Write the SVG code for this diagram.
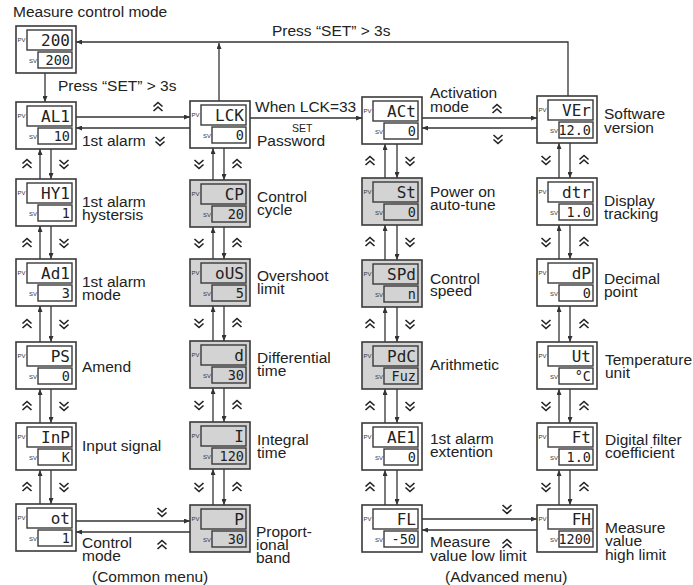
<svg xmlns="http://www.w3.org/2000/svg" xmlns:xlink="http://www.w3.org/1999/xlink" width="693" height="585" viewBox="0 0 693 585">
<style>
.o{fill:#fff;stroke:#3a3a3a;stroke-width:1.6}
.i{fill:#fff;stroke:#3a3a3a;stroke-width:1.4}
.gr .o,.gr .i{fill:#d3d3d3}
.t{font-family:"Liberation Sans",Arial,sans-serif;font-size:6px;fill:#333}
.pv,.sv{font-family:"DejaVu Sans Mono","Liberation Mono",monospace;text-anchor:end;fill:#222}
.pv{font-size:16px}
.sv{font-size:13.5px}
.lbl{font-family:"Liberation Sans",Arial,sans-serif;font-size:15.5px;fill:#222}
.sm{font-family:"Liberation Sans",Arial,sans-serif;font-size:10.5px;fill:#222}
.ln{fill:none;stroke:#333;stroke-width:1.3}
.ch{fill:none;stroke:#222;stroke-width:1.6}
</style>
<defs>
<marker id="ah" viewBox="0 0 12 10" refX="12" refY="5" markerWidth="6" markerHeight="5" orient="auto" markerUnits="userSpaceOnUse"><path d="M0,0 L12,5 L0,10 z" fill="#333"/></marker>
<path id="cu" class="ch" d="M-4.5,-0.5 L0,-4.5 L4.5,-0.5 M-4.5,4 L0,0 L4.5,4"/>
<path id="cd" class="ch" d="M-4.5,0.5 L0,4.5 L4.5,0.5 M-4.5,-4 L0,0 L4.5,-4"/>
</defs>

<g id="connectors">
<path class="ln" marker-end="url(#ah)" d="M568,96 V42 H76"/>
<path class="ln" marker-end="url(#ah)" d="M219,101 V43"/>
<path class="ln" marker-end="url(#ah)" d="M45,73 V102"/>
<path class="ln" marker-end="url(#ah)" d="M76,117 H190"/>
<path class="ln" marker-end="url(#ah)" d="M190,128 H76"/>
<path class="ln" marker-end="url(#ah)" d="M250,118 H362"/>
<path class="ln" marker-end="url(#ah)" d="M422,118 H537"/>
<path class="ln" marker-end="url(#ah)" d="M537,128 H422"/>
<path class="ln" marker-end="url(#ah)" d="M76,521 H190"/>
<path class="ln" marker-end="url(#ah)" d="M190,532 H76"/>
<path class="ln" marker-end="url(#ah)" d="M422,519 H537"/>
<path class="ln" marker-end="url(#ah)" d="M537,530 H422"/>
<path class="ln" marker-end="url(#ah)" d="M40,179 V149"/><path class="ln" marker-end="url(#ah)" d="M51,149 V179"/>
<path class="ln" marker-end="url(#ah)" d="M40,259 V226"/><path class="ln" marker-end="url(#ah)" d="M51,226 V259"/>
<path class="ln" marker-end="url(#ah)" d="M40,342 V306"/><path class="ln" marker-end="url(#ah)" d="M51,306 V342"/>
<path class="ln" marker-end="url(#ah)" d="M40,423 V389"/><path class="ln" marker-end="url(#ah)" d="M51,389 V423"/>
<path class="ln" marker-end="url(#ah)" d="M40,504 V470"/><path class="ln" marker-end="url(#ah)" d="M51,470 V504"/>
<path class="ln" marker-end="url(#ah)" d="M213,180 V148"/><path class="ln" marker-end="url(#ah)" d="M224,148 V180"/>
<path class="ln" marker-end="url(#ah)" d="M213,259 V227"/><path class="ln" marker-end="url(#ah)" d="M224,227 V259"/>
<path class="ln" marker-end="url(#ah)" d="M213,341 V306"/><path class="ln" marker-end="url(#ah)" d="M224,306 V341"/>
<path class="ln" marker-end="url(#ah)" d="M213,422 V388"/><path class="ln" marker-end="url(#ah)" d="M224,388 V422"/>
<path class="ln" marker-end="url(#ah)" d="M213,505 V469"/><path class="ln" marker-end="url(#ah)" d="M224,469 V505"/>
<path class="ln" marker-end="url(#ah)" d="M385,178 V144"/><path class="ln" marker-end="url(#ah)" d="M397,144 V178"/>
<path class="ln" marker-end="url(#ah)" d="M385,260 V225"/><path class="ln" marker-end="url(#ah)" d="M397,225 V260"/>
<path class="ln" marker-end="url(#ah)" d="M385,342 V307"/><path class="ln" marker-end="url(#ah)" d="M397,307 V342"/>
<path class="ln" marker-end="url(#ah)" d="M385,423 V389"/><path class="ln" marker-end="url(#ah)" d="M397,389 V423"/>
<path class="ln" marker-end="url(#ah)" d="M385,505 V470"/><path class="ln" marker-end="url(#ah)" d="M397,470 V505"/>
<path class="ln" marker-end="url(#ah)" d="M559,178 V143"/><path class="ln" marker-end="url(#ah)" d="M570,143 V178"/>
<path class="ln" marker-end="url(#ah)" d="M559,259 V225"/><path class="ln" marker-end="url(#ah)" d="M570,225 V259"/>
<path class="ln" marker-end="url(#ah)" d="M559,342 V306"/><path class="ln" marker-end="url(#ah)" d="M570,306 V342"/>
<path class="ln" marker-end="url(#ah)" d="M559,423 V389"/><path class="ln" marker-end="url(#ah)" d="M570,389 V423"/>
<path class="ln" marker-end="url(#ah)" d="M559,505 V470"/><path class="ln" marker-end="url(#ah)" d="M570,470 V505"/>
<use xlink:href="#cu" x="158" y="107"/><use xlink:href="#cd" x="160" y="141"/>
<use xlink:href="#cu" x="497" y="109"/><use xlink:href="#cd" x="498" y="139"/>
<use xlink:href="#cd" x="162" y="512"/><use xlink:href="#cu" x="162" y="545"/>
<use xlink:href="#cd" x="507" y="509"/><use xlink:href="#cu" x="507" y="544"/>
<use xlink:href="#cu" x="27" y="164"/><use xlink:href="#cd" x="64" y="164"/>
<use xlink:href="#cu" x="27" y="243"/><use xlink:href="#cd" x="64" y="243"/>
<use xlink:href="#cu" x="27" y="324"/><use xlink:href="#cd" x="64" y="324"/>
<use xlink:href="#cu" x="27" y="406"/><use xlink:href="#cd" x="64" y="406"/>
<use xlink:href="#cu" x="27" y="487"/><use xlink:href="#cd" x="64" y="487"/>
<use xlink:href="#cd" x="199" y="164"/><use xlink:href="#cu" x="237" y="164"/>
<use xlink:href="#cd" x="199" y="243"/><use xlink:href="#cu" x="237" y="243"/>
<use xlink:href="#cd" x="199" y="323"/><use xlink:href="#cu" x="237" y="323"/>
<use xlink:href="#cd" x="199" y="405"/><use xlink:href="#cu" x="237" y="405"/>
<use xlink:href="#cd" x="199" y="487"/><use xlink:href="#cu" x="237" y="487"/>
<use xlink:href="#cu" x="370" y="161"/><use xlink:href="#cd" x="410" y="161"/>
<use xlink:href="#cu" x="370" y="242"/><use xlink:href="#cd" x="410" y="242"/>
<use xlink:href="#cu" x="370" y="324"/><use xlink:href="#cd" x="410" y="324"/>
<use xlink:href="#cu" x="370" y="406"/><use xlink:href="#cd" x="410" y="406"/>
<use xlink:href="#cu" x="370" y="487"/><use xlink:href="#cd" x="410" y="487"/>
<use xlink:href="#cd" x="546" y="160"/><use xlink:href="#cu" x="584" y="160"/>
<use xlink:href="#cd" x="546" y="242"/><use xlink:href="#cu" x="584" y="242"/>
<use xlink:href="#cd" x="546" y="324"/><use xlink:href="#cu" x="584" y="324"/>
<use xlink:href="#cd" x="546" y="406"/><use xlink:href="#cu" x="584" y="406"/>
<use xlink:href="#cd" x="546" y="487"/><use xlink:href="#cu" x="584" y="487"/>
<text class="lbl" x="58" y="91">Press “SET” &gt; 3s</text>
<text class="lbl" x="272" y="36">Press “SET” &gt; 3s</text>
<text class="lbl" x="255" y="112">When LCK=33</text>
<text class="sm" x="292" y="132">SET</text>
</g>

<text class="lbl" x="13" y="17">Measure control mode</text>
<text class="lbl" x="92" y="582">(Common menu)</text>
<text class="lbl" x="445" y="582">(Advanced menu)</text>

<g id="n-measure" transform="translate(16,26)"><rect class="o" width="60" height="47"/><rect class="i" x="11" y="4" width="45" height="20"/><rect class="i" x="22" y="26" width="34" height="16"/><text class="t" x="1.5" y="16">PV</text><text class="t" x="13" y="37">SV</text><text class="pv" x="54" y="20">200</text><text class="sv" x="54" y="39">200</text></g>

<g id="n-al1" transform="translate(16,102)"><rect class="o" width="60" height="47"/><rect class="i" x="11" y="4" width="45" height="20"/><rect class="i" x="22" y="26" width="34" height="16"/><text class="t" x="1.5" y="16">PV</text><text class="t" x="13" y="37">SV</text><text class="pv" x="54" y="20">AL1</text><text class="sv" x="54" y="39">10</text><text class="lbl" x="66" y="44">1st alarm</text></g>
<g id="n-hy1" transform="translate(16,179)"><rect class="o" width="60" height="47"/><rect class="i" x="11" y="4" width="45" height="20"/><rect class="i" x="22" y="26" width="34" height="16"/><text class="t" x="1.5" y="16">PV</text><text class="t" x="13" y="37">SV</text><text class="pv" x="54" y="20">HY1</text><text class="sv" x="54" y="39">1</text><text class="lbl" x="66" y="28">1st alarm<tspan x="66" dy="13">hystersis</tspan></text></g>
<g id="n-ad1" transform="translate(16,259)"><rect class="o" width="60" height="47"/><rect class="i" x="11" y="4" width="45" height="20"/><rect class="i" x="22" y="26" width="34" height="16"/><text class="t" x="1.5" y="16">PV</text><text class="t" x="13" y="37">SV</text><text class="pv" x="54" y="20">Ad1</text><text class="sv" x="54" y="39">3</text><text class="lbl" x="66" y="28">1st alarm<tspan x="66" dy="13">mode</tspan></text></g>
<g id="n-ps" transform="translate(16,342)"><rect class="o" width="60" height="47"/><rect class="i" x="11" y="4" width="45" height="20"/><rect class="i" x="22" y="26" width="34" height="16"/><text class="t" x="1.5" y="16">PV</text><text class="t" x="13" y="37">SV</text><text class="pv" x="54" y="20">PS</text><text class="sv" x="54" y="39">0</text><text class="lbl" x="66" y="30">Amend</text></g>
<g id="n-inp" transform="translate(16,423)"><rect class="o" width="60" height="47"/><rect class="i" x="11" y="4" width="45" height="20"/><rect class="i" x="22" y="26" width="34" height="16"/><text class="t" x="1.5" y="16">PV</text><text class="t" x="13" y="37">SV</text><text class="pv" x="54" y="20">InP</text><text class="sv" x="54" y="39">K</text><text class="lbl" x="66" y="28">Input signal</text></g>
<g id="n-ot" transform="translate(16,504)"><rect class="o" width="60" height="47"/><rect class="i" x="11" y="4" width="45" height="20"/><rect class="i" x="22" y="26" width="34" height="16"/><text class="t" x="1.5" y="16">PV</text><text class="t" x="13" y="37">SV</text><text class="pv" x="54" y="20">ot</text><text class="sv" x="54" y="39">1</text><text class="lbl" x="66" y="44">Control<tspan x="66" dy="12.5">mode</tspan></text></g>

<g id="n-lck" transform="translate(190,101)"><rect class="o" width="60" height="47"/><rect class="i" x="11" y="4" width="45" height="20"/><rect class="i" x="22" y="26" width="34" height="16"/><text class="t" x="1.5" y="16">PV</text><text class="t" x="13" y="37">SV</text><text class="pv" x="54" y="20">LCK</text><text class="sv" x="54" y="39">0</text><text class="lbl" x="67" y="45">Password</text></g>
<g id="n-cp" class="gr" transform="translate(190,180)"><rect class="o" width="60" height="47"/><rect class="i" x="11" y="4" width="45" height="20"/><rect class="i" x="22" y="26" width="34" height="16"/><text class="t" x="1.5" y="16">PV</text><text class="t" x="13" y="37">SV</text><text class="pv" x="54" y="20">CP</text><text class="sv" x="54" y="39">20</text><text class="lbl" x="67" y="22">Control<tspan x="67" dy="13">cycle</tspan></text></g>
<g id="n-ous" class="gr" transform="translate(190,259)"><rect class="o" width="60" height="47"/><rect class="i" x="11" y="4" width="45" height="20"/><rect class="i" x="22" y="26" width="34" height="16"/><text class="t" x="1.5" y="16">PV</text><text class="t" x="13" y="37">SV</text><text class="pv" x="54" y="20">oUS</text><text class="sv" x="54" y="39">5</text><text class="lbl" x="67" y="22">Overshoot<tspan x="67" dy="13">limit</tspan></text></g>
<g id="n-d" class="gr" transform="translate(190,341)"><rect class="o" width="60" height="47"/><rect class="i" x="11" y="4" width="45" height="20"/><rect class="i" x="22" y="26" width="34" height="16"/><text class="t" x="1.5" y="16">PV</text><text class="t" x="13" y="37">SV</text><text class="pv" x="54" y="20">d</text><text class="sv" x="54" y="39">30</text><text class="lbl" x="67" y="22">Differential<tspan x="67" dy="13">time</tspan></text></g>
<g id="n-i" class="gr" transform="translate(190,422)"><rect class="o" width="60" height="47"/><rect class="i" x="11" y="4" width="45" height="20"/><rect class="i" x="22" y="26" width="34" height="16"/><text class="t" x="1.5" y="16">PV</text><text class="t" x="13" y="37">SV</text><text class="pv" x="54" y="20">I</text><text class="sv" x="54" y="39">120</text><text class="lbl" x="67" y="23">Integral<tspan x="67" dy="13">time</tspan></text></g>
<g id="n-p" class="gr" transform="translate(190,505)"><rect class="o" width="60" height="47"/><rect class="i" x="11" y="4" width="45" height="20"/><rect class="i" x="22" y="26" width="34" height="16"/><text class="t" x="1.5" y="16">PV</text><text class="t" x="13" y="37">SV</text><text class="pv" x="54" y="20">P</text><text class="sv" x="54" y="39">30</text><text class="lbl" x="66" y="32">Proport-<tspan x="66" dy="13">ional</tspan><tspan x="66" dy="13">band</tspan></text></g>

<g id="n-act" transform="translate(362,97)"><rect class="o" width="60" height="47"/><rect class="i" x="11" y="4" width="45" height="20"/><rect class="i" x="22" y="26" width="34" height="16"/><text class="t" x="1.5" y="16">PV</text><text class="t" x="13" y="37">SV</text><text class="pv" x="54" y="20">ACt</text><text class="sv" x="54" y="39">0</text><text class="lbl" x="68" y="1">Activation<tspan x="68" dy="13.5">mode</tspan></text></g>
<g id="n-st" class="gr" transform="translate(362,178)"><rect class="o" width="60" height="47"/><rect class="i" x="11" y="4" width="45" height="20"/><rect class="i" x="22" y="26" width="34" height="16"/><text class="t" x="1.5" y="16">PV</text><text class="t" x="13" y="37">SV</text><text class="pv" x="54" y="20">St</text><text class="sv" x="54" y="39">0</text><text class="lbl" x="68" y="19">Power on<tspan x="68" dy="13">auto-tune</tspan></text></g>
<g id="n-spd" class="gr" transform="translate(362,260)"><rect class="o" width="60" height="47"/><rect class="i" x="11" y="4" width="45" height="20"/><rect class="i" x="22" y="26" width="34" height="16"/><text class="t" x="1.5" y="16">PV</text><text class="t" x="13" y="37">SV</text><text class="pv" x="54" y="20">SPd</text><text class="sv" x="54" y="39">n</text><text class="lbl" x="68" y="24">Control<tspan x="68" dy="12">speed</tspan></text></g>
<g id="n-pdc" class="gr" transform="translate(362,342)"><rect class="o" width="60" height="47"/><rect class="i" x="11" y="4" width="45" height="20"/><rect class="i" x="22" y="26" width="34" height="16"/><text class="t" x="1.5" y="16">PV</text><text class="t" x="13" y="37">SV</text><text class="pv" x="54" y="20">PdC</text><text class="sv" x="54" y="39">Fuz</text><text class="lbl" x="68" y="28">Arithmetic</text></g>
<g id="n-ae1" transform="translate(362,423)"><rect class="o" width="60" height="47"/><rect class="i" x="11" y="4" width="45" height="20"/><rect class="i" x="22" y="26" width="34" height="16"/><text class="t" x="1.5" y="16">PV</text><text class="t" x="13" y="37">SV</text><text class="pv" x="54" y="20">AE1</text><text class="sv" x="54" y="39">0</text><text class="lbl" x="68" y="21">1st alarm<tspan x="68" dy="13">extention</tspan></text></g>
<g id="n-fl" transform="translate(362,505)"><rect class="o" width="60" height="47"/><rect class="i" x="11" y="4" width="45" height="20"/><rect class="i" x="22" y="26" width="34" height="16"/><text class="t" x="1.5" y="16">PV</text><text class="t" x="13" y="37">SV</text><text class="pv" x="54" y="20">FL</text><text class="sv" x="54" y="39">-50</text><text class="lbl" x="68" y="42">Measure<tspan x="68" dy="13.5">value low limit</tspan></text></g>

<g id="n-ver" transform="translate(537,96)"><rect class="o" width="60" height="47"/><rect class="i" x="11" y="4" width="45" height="20"/><rect class="i" x="22" y="26" width="34" height="16"/><text class="t" x="1.5" y="16">PV</text><text class="t" x="13" y="37">SV</text><text class="pv" x="54" y="20">VEr</text><text class="sv" x="54" y="39">12.0</text><text class="lbl" x="67" y="23">Software<tspan x="67" dy="14">version</tspan></text></g>
<g id="n-dtr" transform="translate(537,178)"><rect class="o" width="60" height="47"/><rect class="i" x="11" y="4" width="45" height="20"/><rect class="i" x="22" y="26" width="34" height="16"/><text class="t" x="1.5" y="16">PV</text><text class="t" x="13" y="37">SV</text><text class="pv" x="54" y="20">dtr</text><text class="sv" x="54" y="39">1.0</text><text class="lbl" x="67" y="28">Display<tspan x="67" dy="13">tracking</tspan></text></g>
<g id="n-dp" transform="translate(537,259)"><rect class="o" width="60" height="47"/><rect class="i" x="11" y="4" width="45" height="20"/><rect class="i" x="22" y="26" width="34" height="16"/><text class="t" x="1.5" y="16">PV</text><text class="t" x="13" y="37">SV</text><text class="pv" x="54" y="20">dP</text><text class="sv" x="54" y="39">0</text><text class="lbl" x="67" y="25">Decimal<tspan x="67" dy="13">point</tspan></text></g>
<g id="n-ut" transform="translate(537,342)"><rect class="o" width="60" height="47"/><rect class="i" x="11" y="4" width="45" height="20"/><rect class="i" x="22" y="26" width="34" height="16"/><text class="t" x="1.5" y="16">PV</text><text class="t" x="13" y="37">SV</text><text class="pv" x="54" y="20">Ut</text><text class="sv" x="54" y="39">°C</text><text class="lbl" x="68" y="23">Temperature<tspan x="68" dy="13">unit</tspan></text></g>
<g id="n-ft" transform="translate(537,423)"><rect class="o" width="60" height="47"/><rect class="i" x="11" y="4" width="45" height="20"/><rect class="i" x="22" y="26" width="34" height="16"/><text class="t" x="1.5" y="16">PV</text><text class="t" x="13" y="37">SV</text><text class="pv" x="54" y="20">Ft</text><text class="sv" x="54" y="39">1.0</text><text class="lbl" x="68" y="22">Digital filter<tspan x="68" dy="13">coefficient</tspan></text></g>
<g id="n-fh" transform="translate(537,505)"><rect class="o" width="60" height="47"/><rect class="i" x="11" y="4" width="45" height="20"/><rect class="i" x="22" y="26" width="34" height="16"/><text class="t" x="1.5" y="16">PV</text><text class="t" x="13" y="37">SV</text><text class="pv" x="54" y="20">FH</text><text class="sv" x="54" y="39">1200</text><text class="lbl" x="68" y="28">Measure<tspan x="68" dy="13">value</tspan><tspan x="68" dy="14">high limit</tspan></text></g>
</svg>
